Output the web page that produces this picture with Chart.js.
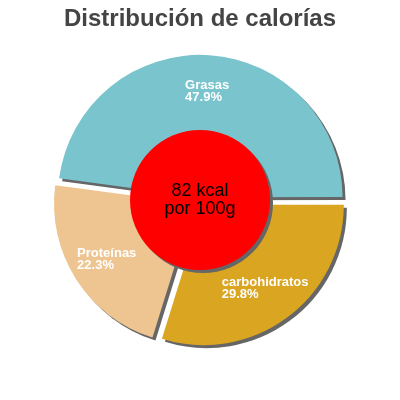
<!DOCTYPE html>
<html>
<head>
<meta charset="utf-8">
<script src="https://cdn.jsdelivr.net/npm/chart.js@4/dist/chart.umd.min.js"></script>
<style>
html,body{margin:0;padding:0;background:#fff;}
#wrap{width:400px;height:400px;}
</style>
</head>
<body>
<div id="wrap"><canvas id="c" width="400" height="400"></canvas></div>
<script>
// Data
const titleText = 'Distribución de calorías';
const categories = ['Grasas', 'Proteínas', 'carbohidratos'];
const percentages = [47.9, 22.3, 29.8];
const sliceColors = ['#7AC5CD', '#EEC591', '#DAA520'];
const sliceOffsets = [11, 28, 24];
const centerLines = ['82 kcal', 'por 100g'];

// Chart.js draws clockwise from east; reference goes counter-clockwise, so reverse
const drawLabels = categories.slice().reverse();
const drawValues = percentages.slice().reverse();
const drawColors = sliceColors.slice().reverse();
const drawOffsets = sliceOffsets.slice().reverse();

const FONT = '"Liberation Sans", Arial, Helvetica, sans-serif';
const R = 140;

const decorPlugin = {
  id: 'decor',
  beforeDatasetsDraw(chart) {
    const ctx = chart.ctx;
    ctx.save();
    ctx.shadowColor = '#666666';
    ctx.shadowOffsetX = 3;
    ctx.shadowOffsetY = 3;
    ctx.shadowBlur = 0;
  },
  afterDatasetsDraw(chart) {
    const ctx = chart.ctx;
    ctx.restore();
    const meta = chart.getDatasetMeta(0);
    const arcs = meta.data;
    const cx = arcs[0].x, cy = arcs[0].y;
    const outer = arcs[0].outerRadius;

    // slice labels
    ctx.save();
    ctx.fillStyle = '#ffffff';
    ctx.font = 'bold 13px ' + FONT;
    ctx.textAlign = 'left';
    ctx.textBaseline = 'middle';
    arcs.forEach((arc, i) => {
      const mid = (arc.startAngle + arc.endAngle) / 2;
      const circ = arc.endAngle - arc.startAngle;
      const off = (drawOffsets[i] || 0) / 4;
      const fix = 1 - Math.sin(Math.min(Math.PI, circ));
      const t = off * (1 + fix);
      const r = 0.74 * outer + t;
      const bx = cx + Math.cos(mid) * r;
      const by = cy + Math.sin(mid) * r;
      const l1 = drawLabels[i];
      const l2 = drawValues[i].toFixed(1) + '%';
      const w = Math.max(ctx.measureText(l1).width, ctx.measureText(l2).width);
      const lx = bx - w / 2;
      ctx.fillText(l1, lx, by - 6);
      ctx.fillText(l2, lx, by + 6);
    });
    ctx.restore();

    // center circle
    ctx.save();
    ctx.shadowColor = '#666666';
    ctx.shadowOffsetX = 3;
    ctx.shadowOffsetY = 3;
    ctx.shadowBlur = 0;
    ctx.beginPath();
    ctx.arc(cx, cy, outer * 0.5, 0, Math.PI * 2);
    ctx.fillStyle = '#FF0000';
    ctx.fill();
    ctx.restore();

    ctx.save();
    ctx.fillStyle = '#000000';
    ctx.font = '18px ' + FONT;
    ctx.textAlign = 'center';
    ctx.textBaseline = 'middle';
    ctx.fillText(centerLines[0], cx, cy - 9);
    ctx.fillText(centerLines[1], cx, cy + 9);
    ctx.restore();
  }
};

new Chart(document.getElementById('c'), {
  type: 'pie',
  data: {
    labels: drawLabels,
    datasets: [{
      data: drawValues,
      backgroundColor: drawColors,
      borderWidth: 0,
      offset: drawOffsets
    }]
  },
  options: {
    responsive: false,
    devicePixelRatio: 1,
    animation: false,
    rotation: 90,
    radius: R,
    layout: { padding: { top: 0, bottom: 33.8, left: 0, right: 0 } },
    plugins: {
      legend: { display: false },
      tooltip: { enabled: false },
      title: {
        display: true,
        text: titleText,
        color: '#444444',
        font: { family: FONT, size: 24, weight: 'bold', lineHeight: 1.2 },
        padding: { top: 5, bottom: 0 }
      }
    }
  },
  plugins: [decorPlugin]
});
</script>
</body>
</html>
